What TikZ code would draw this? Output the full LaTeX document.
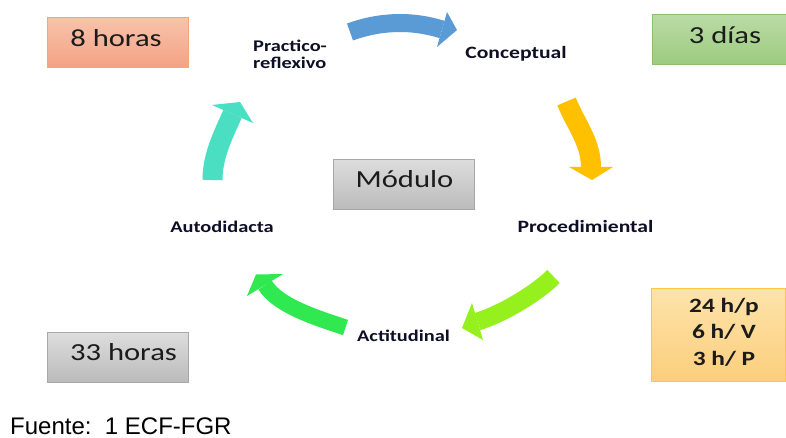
\documentclass[tikz,border=0pt]{standalone}
\usepackage{fontspec}
\setmainfont{Carlito}
\newfontfamily\boxfont[FakeStretch=1.25]{Carlito}
\newfontfamily\footfont{Liberation Sans}
\definecolor{blueA}{HTML}{5B9BD5}
\definecolor{yellowA}{HTML}{FFC000}
\definecolor{limeA}{HTML}{96F01E}
\definecolor{greenA}{HTML}{30E850}
\definecolor{tealA}{HTML}{4ADFC2}
\definecolor{labelC}{HTML}{0E0E26}
\definecolor{textC}{HTML}{1B1B1B}
\definecolor{HTMLF2A57E}{HTML}{F2A57E}
\definecolor{HTMLF8C3AC}{HTML}{F8C3AC}
\definecolor{HTMLF4A283}{HTML}{F4A283}
\definecolor{HTML8DC06C}{HTML}{8DC06C}
\definecolor{HTMLB9DBA6}{HTML}{B9DBA6}
\definecolor{HTML9CCB7E}{HTML}{9CCB7E}
\definecolor{HTMLA8A8A8}{HTML}{A8A8A8}
\definecolor{HTMLDDDDDD}{HTML}{DDDDDD}
\definecolor{HTMLBBBBBB}{HTML}{BBBBBB}
\definecolor{HTMLFFC83C}{HTML}{FFC83C}
\definecolor{HTMLFDE3AA}{HTML}{FDE3AA}
\definecolor{HTMLFCCE7C}{HTML}{FCCE7C}
\tikzset{
  box/.style={draw, rectangle, inner sep=0pt, line width=1pt},
  salmonbox/.style={box, draw=HTMLF2A57E, top color=HTMLF8C3AC, bottom color=HTMLF4A283},
  greenbox/.style={box, draw=HTML8DC06C, top color=HTMLB9DBA6, bottom color=HTML9CCB7E},
  graybox/.style={box, draw=HTMLA8A8A8, top color=HTMLDDDDDD, bottom color=HTMLBBBBBB},
  orangebox/.style={box, draw=HTMLFFC83C, top color=HTMLFDE3AA, bottom color=HTMLFCCE7C},
  boxtext/.style={anchor=base, inner sep=0pt, text=textC, font=\boxfont\fontsize{24.5}{28}\selectfont},
  boldtext/.style={anchor=base, inner sep=0pt, text=textC, font=\boxfont\bfseries\fontsize{20.3}{24}\selectfont},
  lbl/.style={inner sep=0pt, text=labelC, font=\boxfont\bfseries\fontsize{#1}{16}\selectfont},
  lbl/.default=16.8,
  body/.style={line width=#1},
}
\begin{document}
\begin{tikzpicture}[x=1pt,y=-1pt]
\useasboundingbox (0,0) rectangle (786,438);
\fill[white] (0,0) rectangle (786,438);

% boxes
\node[salmonbox, minimum width=141.4pt, minimum height=50.4pt] (b8) at (118,42.5) {};
\node[boxtext] (t8) at (116,46.7) {8 horas};

\node[greenbox, minimum width=134pt, minimum height=50pt] (b3) at (719.3,40) {};
\node[boxtext] (t3) at (725,43.3) {3 días};

\node[graybox, minimum width=141pt, minimum height=50pt] (bm) at (403.8,184.3) {};
\node[boxtext] (tm) at (404.5,188) {Módulo};

\node[graybox, minimum width=141.4pt, minimum height=50pt] (b33) at (118,357.3) {};
\node[boxtext] (t33) at (123.5,360) {33 horas};

\node[orangebox, minimum width=134pt, minimum height=92.7pt] (b24) at (718.7,335.3) {};
\node[boldtext] (t24a) at (724,312) {24 h/p};
\node[boldtext] (t24b) at (724,338.5) {6 h/ V};
\node[boldtext] (t24c) at (724,365) {3 h/ P};

% labels
\node[lbl=16.3, anchor=base west] (pr1) at (253,52) {Practico-};
\node[lbl=16.3, anchor=base west] (pr2) at (253,68.5) {reflexivo};
\node[lbl=17.3, anchor=base] (con) at (516,58.5) {Conceptual};
\node[lbl=17.3, anchor=base] (pro) at (585.5,233) {Procedimiental};
\node[lbl=16.3, anchor=base] (aut) at (222,233) {Autodidacta};
\node[lbl=16.3, anchor=base] (act) at (403.5,341.5) {Actitudinal};

% arrows
\draw[blueA, body=18pt] (350,32) .. controls (380,21) and (412,20) .. (442,29.5);
\fill[blueA] (447,12) -- (457,30) -- (437,47) -- cycle;

\draw[yellowA, body=20pt] (566.5,101.5) .. controls (576,125) and (591,142) .. (591,167.5);
\fill[yellowA] (569,167) -- (592,180) -- (613,167) -- cycle;

\draw[limeA, body=18pt] (553.5,276.5) .. controls (536.5,293.5) and (501.5,314.4) .. (477.5,321.5);
\fill[limeA] (472,303) -- (462,328) -- (483,340) -- cycle;

\draw[greenA, body=16pt] (345.5,327.5) .. controls (317,318) and (278,306) .. (265,285);
\fill[greenA] (283,274) -- (256,274.5) -- (247,296) -- cycle;

\draw[tealA, body=20pt] (212.5,180) .. controls (212.5,155) and (223.7,134) .. (232.5,114);
\fill[tealA] (212,105) -- (240,102) -- (253,123) -- cycle;

% footer
\node[anchor=base west, inner sep=0pt, font=\footfont\fontsize{24}{28}\selectfont] (foot) at (10,434.5) {Fuente:\ \ 1 ECF-FGR};
\end{tikzpicture}
\end{document}
